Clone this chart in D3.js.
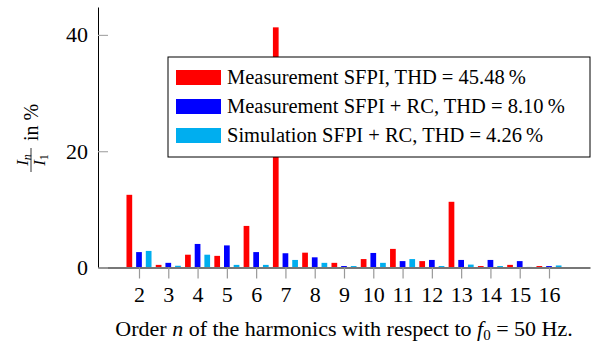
<!DOCTYPE html>
<html>
<head>
<meta charset="utf-8">
<script src="https://cdn.jsdelivr.net/npm/d3@7"></script>
<style>
  body { margin: 0; background: #fff; }
</style>
</head>
<body>
<svg id="chart" width="595" height="346"></svg>
<script>
// harmonic orders on the x axis
const orders = [2, 3, 4, 5, 6, 7, 8, 9, 10, 11, 12, 13, 14, 15, 16];

// In / I1 in %
const measSfpi   = [12.5, 0.45, 2.2, 2.0, 7.15, 41.3, 2.55, 0.8, 1.45, 3.2, 1.1, 11.3, 0.25, 0.45, 0.25];
const measSfpiRc = [2.65, 0.8, 4.05, 3.8, 2.65, 2.45, 1.75, 0.25, 2.5, 1.1, 1.3, 1.3, 1.3, 1.1, 0.25];
const simSfpiRc  = [2.85, 0.3, 2.2, 0.45, 0.45, 1.3, 0.8, 0.25, 0.8, 1.45, 0.25, 0.5, 0.25, 0.1, 0.35];

const seriesNames = [
  'Measurement SFPI, THD = 45.48\u2009%',
  'Measurement SFPI + RC, THD = 8.10\u2009%',
  'Simulation SFPI + RC, THD = 4.26\u2009%'
];
const seriesColors = ['#ff0000', '#0000ff', '#00aeef'];
const yTicks = [0, 20, 40];

const SERIF = 'Liberation Serif';

const svg = d3.select('#chart').style('font-family', SERIF);

const x = d3.scaleLinear().domain([0.6, 17.4]).range([98, 590]);
const y = d3.scaleLinear().domain([0, 44.8]).range([267.5, 7]);

// bar offsets within a group, in x units
const offsets = [-0.33, 0, 0.33];
const barW = x(0.195) - x(0);

const allSeries = [measSfpi, measSfpiRc, simSfpiRc];

// bars
allSeries.forEach((vals, si) => {
  svg.append('g')
    .selectAll('rect')
    .data(orders.map((n, i) => ({ n, v: vals[i] })))
    .join('rect')
      .attr('x', d => x(d.n + offsets[si]) - barW / 2)
      .attr('width', barW)
      .attr('y', d => y(d.v))
      .attr('height', d => y(0) - y(d.v))
      .attr('fill', seriesColors[si]);
});

// x axis
const xAxis = svg.append('g')
  .attr('transform', `translate(0,${y(0)})`)
  .call(d3.axisBottom(x).tickValues(orders).tickSize(11).tickSizeOuter(0).tickPadding(8));
xAxis.select('.domain').attr('stroke', '#777').attr('stroke-width', 2);
xAxis.selectAll('.tick line').attr('stroke', '#999').attr('stroke-width', 1.2);
xAxis.selectAll('.tick text')
  .attr('font-size', 22)
  .style('font-family', SERIF)
  .attr('fill', '#000');

// y axis
const yAxis = svg.append('g')
  .attr('transform', `translate(${x.range()[0]},0)`)
  .call(d3.axisLeft(y).tickValues(yTicks).tickSize(0).tickSizeOuter(0).tickPadding(10));
yAxis.select('.domain').attr('stroke', '#000').attr('stroke-width', 1);
yAxis.selectAll('.tick text')
  .attr('font-size', 22)
  .style('font-family', SERIF)
  .attr('fill', '#000');
yAxis.selectAll('.tick')
  .append('line')
    .attr('x1', 0).attr('x2', 10)
    .attr('stroke', '#aaa').attr('stroke-width', 1.2);

// legend
const legend = svg.append('g').attr('transform', 'translate(168,57)');
legend.append('rect')
  .attr('width', 422).attr('height', 100)
  .attr('fill', '#fff').attr('stroke', '#000').attr('stroke-width', 1);
seriesNames.forEach((name, i) => {
  const row = legend.append('g').attr('transform', `translate(0,${20 + i * 29})`);
  row.append('rect')
    .attr('x', 8).attr('y', -7).attr('width', 45).attr('height', 15)
    .attr('fill', seriesColors[i]);
  row.append('text')
    .attr('x', 59).attr('y', 7)
    .attr('font-size', 20.5)
    .style('font-family', SERIF)
    .text(name);
});

// x label
const xl = svg.append('text')
  .attr('x', 344).attr('y', 336)
  .attr('text-anchor', 'middle')
  .attr('font-size', 22)
  .style('font-family', SERIF);
xl.append('tspan').text('Order ');
xl.append('tspan').attr('font-style', 'italic').text('n');
xl.append('tspan').text(' of the harmonics with respect to ');
xl.append('tspan').attr('font-style', 'italic').text('f');
xl.append('tspan').attr('font-size', 15).attr('dy', 4).text('0');
xl.append('tspan').attr('dy', -4).text(' = 50 Hz.');

// y label: fraction In / I1 in %
const yl = svg.append('g').attr('transform', 'translate(31,136) rotate(-90)');
yl.append('text')
  .attr('x', -24).attr('y', -3).attr('text-anchor', 'middle')
  .attr('font-size', 17).attr('font-style', 'italic')
  .style('font-family', SERIF)
  .call(t => {
    t.append('tspan').text('I');
    t.append('tspan').attr('font-size', 12).attr('dy', 3).text('n');
  });
yl.append('line')
  .attr('x1', -36).attr('x2', -12).attr('y1', 0).attr('y2', 0)
  .attr('stroke', '#000').attr('stroke-width', 0.8);
yl.append('text')
  .attr('x', -24).attr('y', 14).attr('text-anchor', 'middle')
  .attr('font-size', 17).attr('font-style', 'italic')
  .style('font-family', SERIF)
  .call(t => {
    t.append('tspan').text('I');
    t.append('tspan').attr('font-size', 12).attr('dy', 3).attr('font-style', 'normal').text('1');
  });
yl.append('text')
  .attr('x', -5).attr('y', 7)
  .attr('font-size', 20)
  .style('font-family', SERIF)
  .text('in %');
</script>
</body>
</html>
